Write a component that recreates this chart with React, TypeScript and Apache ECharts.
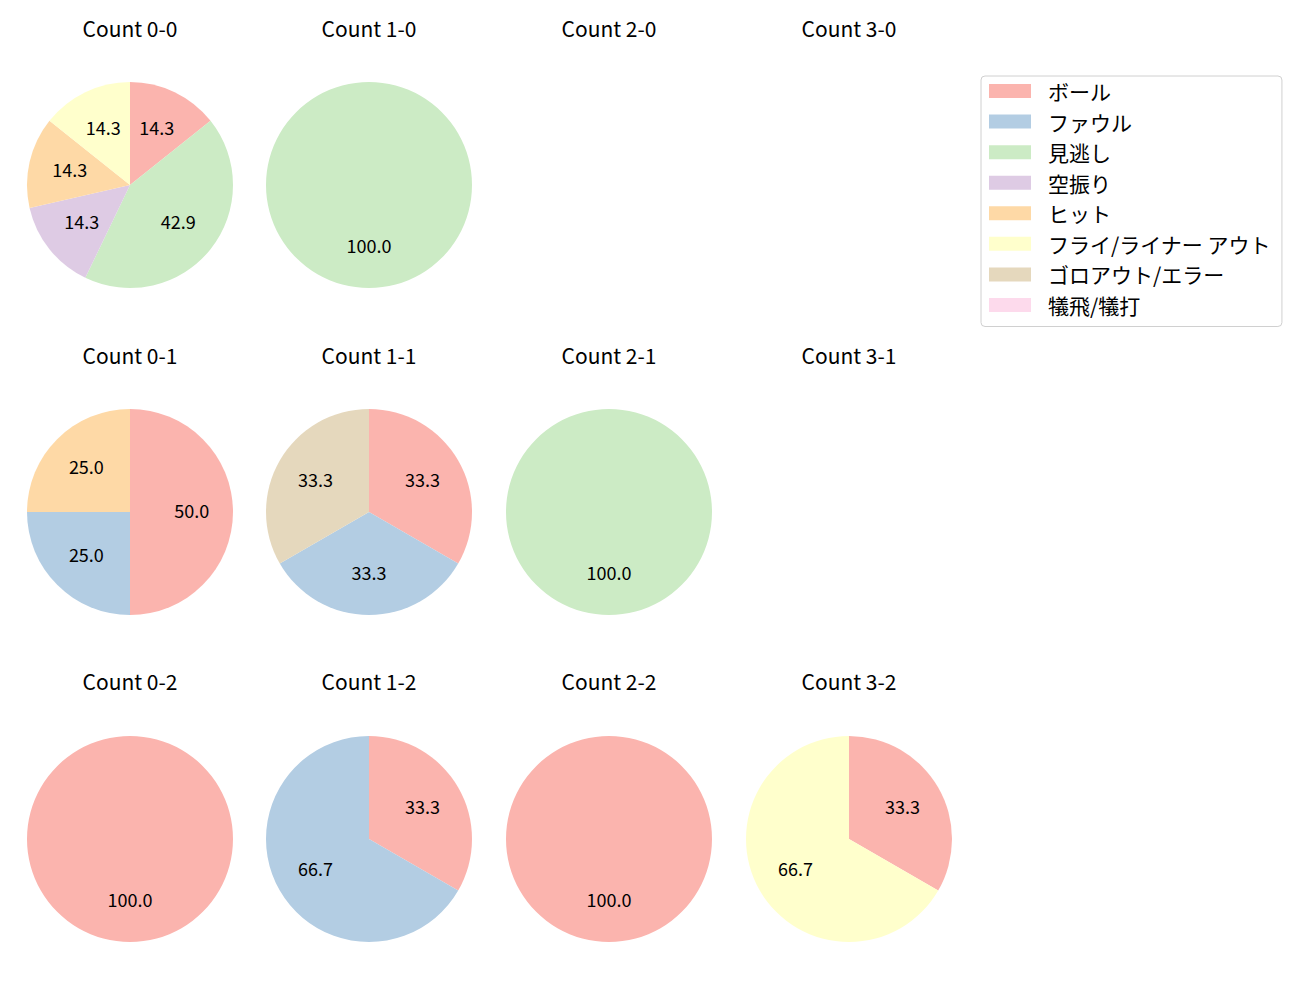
import React, { useEffect, useRef } from "react";
import * as echarts from "echarts";

const categories = [
  "ボール",
  "ファウル",
  "見逃し",
  "空振り",
  "ヒット",
  "フライ/ライナー アウト",
  "ゴロアウト/エラー",
  "犠飛/犠打",
];
const colors = ["#fbb4ae", "#b3cde3", "#ccebc5", "#decbe4", "#fed9a6", "#ffffcc", "#e5d8bd", "#fddaec"];

const countTitles = [
  ["Count 0-0", "Count 1-0", "Count 2-0", "Count 3-0"],
  ["Count 0-1", "Count 1-1", "Count 2-1", "Count 3-1"],
  ["Count 0-2", "Count 1-2", "Count 2-2", "Count 3-2"],
];

const count00 = [1, 0, 3, 1, 1, 1, 0, 0];
const count10 = [0, 0, 1, 0, 0, 0, 0, 0];
const count20: number[] = [];
const count30: number[] = [];
const count01 = [2, 1, 0, 0, 1, 0, 0, 0];
const count11 = [1, 1, 0, 0, 0, 0, 1, 0];
const count21 = [0, 0, 1, 0, 0, 0, 0, 0];
const count31: number[] = [];
const count02 = [1, 0, 0, 0, 0, 0, 0, 0];
const count12 = [1, 2, 0, 0, 0, 0, 0, 0];
const count22 = [1, 0, 0, 0, 0, 0, 0, 0];
const count32 = [1, 0, 0, 0, 0, 2, 0, 0];

const countData = [
  [count00, count10, count20, count30],
  [count01, count11, count21, count31],
  [count02, count12, count22, count32],
];

const colX = [130, 369, 609, 849];
const rowY = [185, 512, 839];
const titleTop = [17, 344, 670];
const R = 103;
const FONT = "'Noto Sans CJK JP', 'Noto Sans', sans-serif";

export default function App() {
  const ref = useRef<HTMLDivElement>(null);
  useEffect(() => {
    if (!ref.current) return;
    const chart = echarts.init(ref.current, null, { renderer: "svg" });
    const titles: any[] = [];
    const series: any[] = [];
    countTitles.forEach((row, ri) => {
      row.forEach((t, ci) => {
        titles.push({
          text: t,
          left: colX[ci],
          top: titleTop[ri],
          padding: 0,
          textAlign: "center",
          textStyle: { fontFamily: FONT, fontSize: 21, fontWeight: "normal", color: "#000" },
        });
        const vals = countData[ri][ci];
        if (!vals.length) return;
        const total = vals.reduce((a, b) => a + b, 0);
        series.push({
          type: "pie",
          center: [colX[ci], rowY[ri]],
          radius: [0, R],
          startAngle: 90,
          clockwise: true,
          silent: true,
          label: { show: false },
          labelLine: { show: false },
          emphasis: { disabled: true },
          data: categories.map((c, i) => ({
            name: c,
            value: vals[i],
            itemStyle: { color: colors[i], borderWidth: 0 },
          })),
        });
        series.push({
          type: "pie",
          center: [colX[ci], rowY[ri]],
          radius: [R * 0.14, R],
          startAngle: 90,
          clockwise: true,
          silent: true,
          legendHoverLink: false,
          emphasis: { disabled: true },
          labelLine: { show: false },
          label: {
            show: true,
            position: "inside",
            offset: [0, -2],
            fontFamily: FONT,
            fontSize: 18,
            color: "#000",
            formatter: (p: any) => (p.value > 0 ? ((p.value / total) * 100).toFixed(1) : ""),
          },
          itemStyle: { color: "rgba(0,0,0,0)", borderWidth: 0 },
          data: vals
            .map((v, i) => ({ v, i }))
            .filter((d) => d.v > 0)
            .map((d) => ({ value: d.v })),
        });
      });
    });
    chart.setOption({
      animation: false,
      backgroundColor: "#fff",
      title: titles,
      legend: {
        data: categories,
        orient: "vertical",
        left: 981,
        top: 76,
        padding: [4.5, 11, 11, 8],
        itemWidth: 42,
        itemHeight: 14,
        itemGap: 9.57,
        icon: "rect",
        selectedMode: false,
        borderColor: "#d0d0d0",
        borderWidth: 1,
        borderRadius: 4,
        textStyle: { fontFamily: FONT, fontSize: 21, color: "#000", padding: [0, 0, 0, 12] },
      },
      series,
    });
    return () => chart.dispose();
  }, []);
  return <div ref={ref} style={{ position: "absolute", left: 0, top: 0, width: 1300, height: 1000 }} />;
}
